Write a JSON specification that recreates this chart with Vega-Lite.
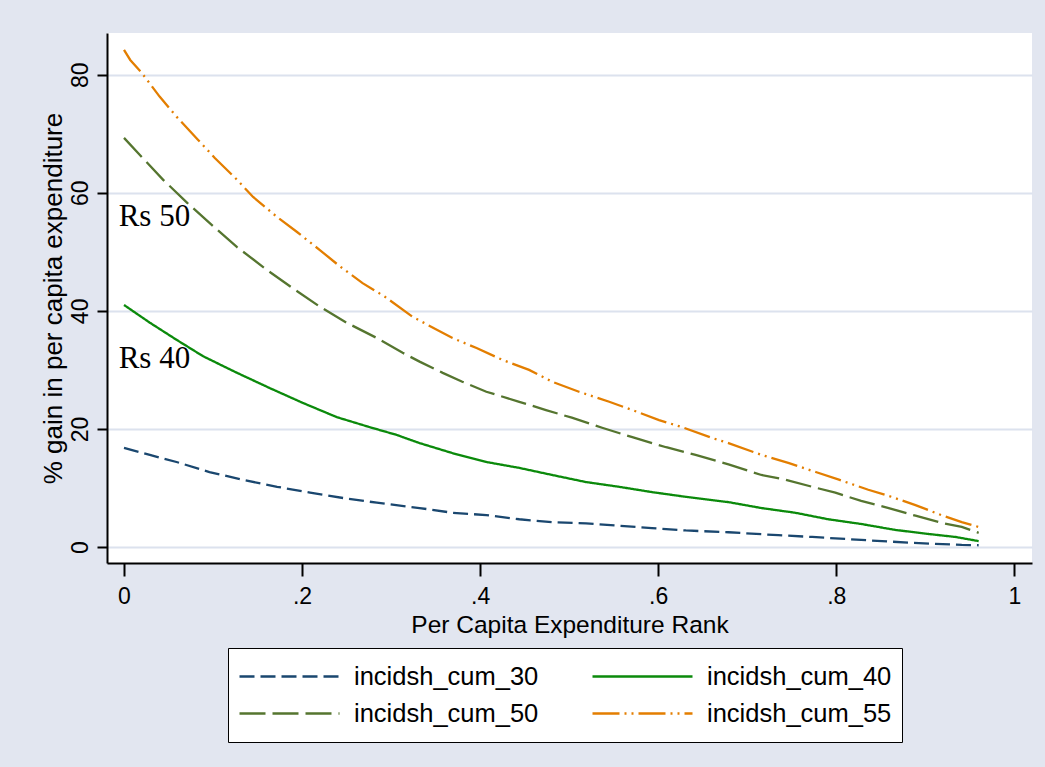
{
  "$schema": "https://vega.github.io/schema/vega-lite/v6.json",
  "width": 925,
  "height": 530,
  "autosize": {"type": "none"},
  "padding": {"left": 107, "top": 33, "right": 13, "bottom": 204},
  "background": "#E2E6F0",
  "config": {
    "view": {"fill": "white", "stroke": null},
    "font": "Liberation Sans",
    "axis": {
      "domainColor": "black",
      "domainWidth": 2,
      "tickColor": "black",
      "tickWidth": 2,
      "labelColor": "black",
      "titleColor": "black",
      "titleFontWeight": "normal",
      "labelFont": "Liberation Sans",
      "titleFont": "Liberation Sans"
    }
  },
  "layer": [
    {
      "data": {
        "values": [
          {"series": "incidsh_cum_30", "x": 0, "y": 16.8},
          {"series": "incidsh_cum_30", "x": 0.029, "y": 15.6},
          {"series": "incidsh_cum_30", "x": 0.059, "y": 14.4},
          {"series": "incidsh_cum_30", "x": 0.096, "y": 12.7},
          {"series": "incidsh_cum_30", "x": 0.133, "y": 11.4},
          {"series": "incidsh_cum_30", "x": 0.172, "y": 10.2},
          {"series": "incidsh_cum_30", "x": 0.209, "y": 9.2},
          {"series": "incidsh_cum_30", "x": 0.246, "y": 8.3},
          {"series": "incidsh_cum_30", "x": 0.284, "y": 7.5},
          {"series": "incidsh_cum_30", "x": 0.332, "y": 6.6},
          {"series": "incidsh_cum_30", "x": 0.369, "y": 5.8},
          {"series": "incidsh_cum_30", "x": 0.407, "y": 5.4},
          {"series": "incidsh_cum_30", "x": 0.444, "y": 4.7},
          {"series": "incidsh_cum_30", "x": 0.481, "y": 4.2},
          {"series": "incidsh_cum_30", "x": 0.519, "y": 4.0},
          {"series": "incidsh_cum_30", "x": 0.556, "y": 3.6},
          {"series": "incidsh_cum_30", "x": 0.593, "y": 3.2},
          {"series": "incidsh_cum_30", "x": 0.631, "y": 2.8},
          {"series": "incidsh_cum_30", "x": 0.679, "y": 2.5},
          {"series": "incidsh_cum_30", "x": 0.735, "y": 2.0},
          {"series": "incidsh_cum_30", "x": 0.773, "y": 1.7},
          {"series": "incidsh_cum_30", "x": 0.828, "y": 1.2},
          {"series": "incidsh_cum_30", "x": 0.885, "y": 0.7},
          {"series": "incidsh_cum_30", "x": 0.941, "y": 0.35},
          {"series": "incidsh_cum_30", "x": 0.96, "y": 0.3},

          {"series": "incidsh_cum_40", "x": 0, "y": 41.0},
          {"series": "incidsh_cum_40", "x": 0.029, "y": 38.0},
          {"series": "incidsh_cum_40", "x": 0.059, "y": 35.1},
          {"series": "incidsh_cum_40", "x": 0.089, "y": 32.3},
          {"series": "incidsh_cum_40", "x": 0.127, "y": 29.5},
          {"series": "incidsh_cum_40", "x": 0.164, "y": 26.9},
          {"series": "incidsh_cum_40", "x": 0.201, "y": 24.4},
          {"series": "incidsh_cum_40", "x": 0.239, "y": 22.0},
          {"series": "incidsh_cum_40", "x": 0.276, "y": 20.3},
          {"series": "incidsh_cum_40", "x": 0.306, "y": 19.0},
          {"series": "incidsh_cum_40", "x": 0.332, "y": 17.6},
          {"series": "incidsh_cum_40", "x": 0.369, "y": 15.9},
          {"series": "incidsh_cum_40", "x": 0.407, "y": 14.4},
          {"series": "incidsh_cum_40", "x": 0.444, "y": 13.4},
          {"series": "incidsh_cum_40", "x": 0.481, "y": 12.2},
          {"series": "incidsh_cum_40", "x": 0.519, "y": 11.0},
          {"series": "incidsh_cum_40", "x": 0.556, "y": 10.2},
          {"series": "incidsh_cum_40", "x": 0.593, "y": 9.3},
          {"series": "incidsh_cum_40", "x": 0.631, "y": 8.5},
          {"series": "incidsh_cum_40", "x": 0.679, "y": 7.6},
          {"series": "incidsh_cum_40", "x": 0.716, "y": 6.6},
          {"series": "incidsh_cum_40", "x": 0.754, "y": 5.8},
          {"series": "incidsh_cum_40", "x": 0.791, "y": 4.7},
          {"series": "incidsh_cum_40", "x": 0.828, "y": 3.9},
          {"series": "incidsh_cum_40", "x": 0.866, "y": 2.9},
          {"series": "incidsh_cum_40", "x": 0.904, "y": 2.2},
          {"series": "incidsh_cum_40", "x": 0.934, "y": 1.7},
          {"series": "incidsh_cum_40", "x": 0.96, "y": 1.0},

          {"series": "incidsh_cum_50", "x": 0, "y": 69.3},
          {"series": "incidsh_cum_50", "x": 0.021, "y": 65.9},
          {"series": "incidsh_cum_50", "x": 0.044, "y": 62.2},
          {"series": "incidsh_cum_50", "x": 0.071, "y": 58.3},
          {"series": "incidsh_cum_50", "x": 0.096, "y": 54.9},
          {"series": "incidsh_cum_50", "x": 0.127, "y": 50.8},
          {"series": "incidsh_cum_50", "x": 0.160, "y": 47.0},
          {"series": "incidsh_cum_50", "x": 0.189, "y": 43.9},
          {"series": "incidsh_cum_50", "x": 0.220, "y": 40.7},
          {"series": "incidsh_cum_50", "x": 0.250, "y": 38.0},
          {"series": "incidsh_cum_50", "x": 0.284, "y": 35.4},
          {"series": "incidsh_cum_50", "x": 0.313, "y": 32.9},
          {"series": "incidsh_cum_50", "x": 0.332, "y": 31.4},
          {"series": "incidsh_cum_50", "x": 0.358, "y": 29.5},
          {"series": "incidsh_cum_50", "x": 0.380, "y": 28.0},
          {"series": "incidsh_cum_50", "x": 0.407, "y": 26.3},
          {"series": "incidsh_cum_50", "x": 0.444, "y": 24.6},
          {"series": "incidsh_cum_50", "x": 0.474, "y": 23.2},
          {"series": "incidsh_cum_50", "x": 0.503, "y": 21.9},
          {"series": "incidsh_cum_50", "x": 0.537, "y": 20.2},
          {"series": "incidsh_cum_50", "x": 0.571, "y": 18.6},
          {"series": "incidsh_cum_50", "x": 0.609, "y": 16.9},
          {"series": "incidsh_cum_50", "x": 0.642, "y": 15.6},
          {"series": "incidsh_cum_50", "x": 0.679, "y": 14.0},
          {"series": "incidsh_cum_50", "x": 0.716, "y": 12.2},
          {"series": "incidsh_cum_50", "x": 0.743, "y": 11.4},
          {"series": "incidsh_cum_50", "x": 0.773, "y": 10.2},
          {"series": "incidsh_cum_50", "x": 0.799, "y": 9.2},
          {"series": "incidsh_cum_50", "x": 0.828, "y": 7.8},
          {"series": "incidsh_cum_50", "x": 0.859, "y": 6.6},
          {"series": "incidsh_cum_50", "x": 0.889, "y": 5.3},
          {"series": "incidsh_cum_50", "x": 0.918, "y": 4.1},
          {"series": "incidsh_cum_50", "x": 0.941, "y": 3.4},
          {"series": "incidsh_cum_50", "x": 0.96, "y": 2.4},

          {"series": "incidsh_cum_55", "x": 0, "y": 84.2},
          {"series": "incidsh_cum_55", "x": 0.007, "y": 82.5},
          {"series": "incidsh_cum_55", "x": 0.02, "y": 80.3},
          {"series": "incidsh_cum_55", "x": 0.04, "y": 76.3},
          {"series": "incidsh_cum_55", "x": 0.059, "y": 72.9},
          {"series": "incidsh_cum_55", "x": 0.083, "y": 69.0},
          {"series": "incidsh_cum_55", "x": 0.102, "y": 65.9},
          {"series": "incidsh_cum_55", "x": 0.127, "y": 62.2},
          {"series": "incidsh_cum_55", "x": 0.145, "y": 59.3},
          {"series": "incidsh_cum_55", "x": 0.172, "y": 55.9},
          {"series": "incidsh_cum_55", "x": 0.194, "y": 53.4},
          {"series": "incidsh_cum_55", "x": 0.22, "y": 50.3},
          {"series": "incidsh_cum_55", "x": 0.242, "y": 47.6},
          {"series": "incidsh_cum_55", "x": 0.268, "y": 44.7},
          {"series": "incidsh_cum_55", "x": 0.293, "y": 42.4},
          {"series": "incidsh_cum_55", "x": 0.324, "y": 39.0},
          {"series": "incidsh_cum_55", "x": 0.369, "y": 35.4},
          {"series": "incidsh_cum_55", "x": 0.396, "y": 33.7},
          {"series": "incidsh_cum_55", "x": 0.425, "y": 31.7},
          {"series": "incidsh_cum_55", "x": 0.455, "y": 30.0},
          {"series": "incidsh_cum_55", "x": 0.481, "y": 28.0},
          {"series": "incidsh_cum_55", "x": 0.511, "y": 26.3},
          {"series": "incidsh_cum_55", "x": 0.545, "y": 24.6},
          {"series": "incidsh_cum_55", "x": 0.571, "y": 23.2},
          {"series": "incidsh_cum_55", "x": 0.601, "y": 21.5},
          {"series": "incidsh_cum_55", "x": 0.627, "y": 20.3},
          {"series": "incidsh_cum_55", "x": 0.66, "y": 18.5},
          {"series": "incidsh_cum_55", "x": 0.679, "y": 17.6},
          {"series": "incidsh_cum_55", "x": 0.716, "y": 15.6},
          {"series": "incidsh_cum_55", "x": 0.747, "y": 14.2},
          {"series": "incidsh_cum_55", "x": 0.777, "y": 12.7},
          {"series": "incidsh_cum_55", "x": 0.803, "y": 11.4},
          {"series": "incidsh_cum_55", "x": 0.836, "y": 9.7},
          {"series": "incidsh_cum_55", "x": 0.862, "y": 8.5},
          {"series": "incidsh_cum_55", "x": 0.889, "y": 7.1},
          {"series": "incidsh_cum_55", "x": 0.918, "y": 5.4},
          {"series": "incidsh_cum_55", "x": 0.941, "y": 4.2},
          {"series": "incidsh_cum_55", "x": 0.96, "y": 3.4}
        ]
      },
      "mark": {"type": "line", "strokeWidth": 2.3, "strokeCap": "butt"},
      "encoding": {
        "x": {
          "field": "x",
          "type": "quantitative",
          "scale": {"domain": [-0.0191, 1.0199], "nice": false, "zero": false},
          "axis": {
            "values": [0, 0.2, 0.4, 0.6, 0.8, 1],
            "grid": false,
            "tickSize": 13,
            "labelPadding": 9,
            "labelFontSize": 23,
            "labelExpr": "replace(format(datum.value, '.1~f'), '0.', '.')",
            "title": "Per Capita Expenditure Rank",
            "titleFontSize": 24.5,
            "titlePadding": 5
          }
        },
        "y": {
          "field": "y",
          "type": "quantitative",
          "scale": {"domain": [-2.71, 87.07], "nice": false, "zero": false},
          "axis": {
            "values": [0, 20, 40, 60, 80],
            "grid": true,
            "gridColor": "#DCE2EE",
            "gridWidth": 2,
            "tickSize": 10,
            "labelAngle": -90,
            "labelAlign": "center",
            "labelBaseline": "bottom",
            "labelPadding": 5,
            "labelFontSize": 23,
            "title": "% gain in per capita expenditure",
            "titleFontSize": 26,
            "titlePadding": 3
          }
        },
        "color": {
          "field": "series",
          "type": "nominal",
          "scale": {
            "domain": ["incidsh_cum_30", "incidsh_cum_40", "incidsh_cum_50", "incidsh_cum_55"],
            "range": ["#1A476F", "#0B8A0B", "#55752F", "#E37E00"]
          },
          "legend": {
            "orient": "none",
            "direction": "horizontal",
            "legendX": 121,
            "legendY": 615,
            "columns": 2,
            "title": null,
            "symbolType": "stroke",
            "symbolSize": 10000,
            "symbolStrokeWidth": 2.3,
            "labelFontSize": 25.5,
            "labelFont": "Liberation Sans",
            "labelColor": "black",
            "labelOffset": 13,
            "labelLimit": 400,
            "columnPadding": 52,
            "rowPadding": 0,
            "clipHeight": 37,
            "padding": 10,
            "strokeColor": "black",
            "fillColor": "white"
          }
        },
        "strokeDash": {
          "field": "series",
          "type": "nominal",
          "scale": {
            "domain": ["incidsh_cum_30", "incidsh_cum_40", "incidsh_cum_50", "incidsh_cum_55"],
            "range": [[15, 6], [1, 0], [26, 7], [27, 5, 2, 5, 2, 5]]
          }
        }
      }
    },
    {
      "data": {
        "values": [
          {"x": -0.006, "y": 54.4, "label": "Rs 50"},
          {"x": -0.006, "y": 30.3, "label": "Rs 40"}
        ]
      },
      "mark": {"type": "text", "font": "Liberation Serif", "fontSize": 31, "align": "left", "baseline": "alphabetic", "color": "black"},
      "encoding": {
        "x": {"field": "x", "type": "quantitative"},
        "y": {"field": "y", "type": "quantitative"},
        "text": {"field": "label"}
      }
    }
  ]
}
